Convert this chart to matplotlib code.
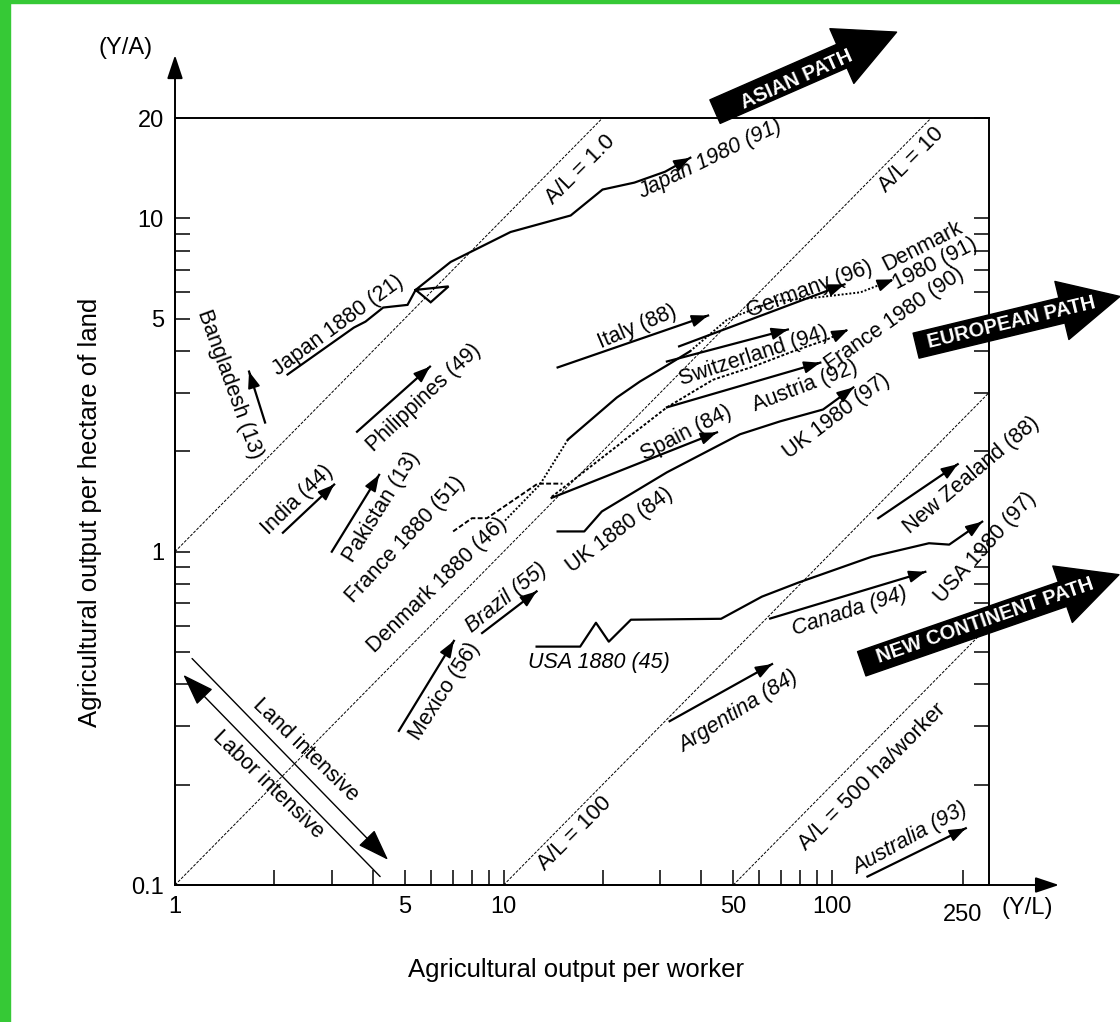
import numpy as np
import matplotlib.pyplot as plt
from matplotlib.patches import Rectangle
from matplotlib.transforms import ScaledTranslation

plt.rcParams['font.family'] = ['Liberation Sans', 'DejaVu Sans']

# axis ticks
x_major = [1, 5, 10, 50, 100, 250]
x_minor = [2, 3, 4, 6, 7, 8, 9, 20, 30, 40, 60, 70, 80, 90]
y_major = [0.1, 1, 5, 10, 20]
y_minor = [0.2, 0.3, 0.4, 0.5, 0.6, 0.7, 0.8, 0.9, 2, 3, 4, 6, 7, 8, 9]

# land per worker (A/L) guide lines
al_x = [[1, 20], [1, 200], [10, 300], [50, 300]]
al_y = [[1, 20], [0.1, 20], [0.1, 3], [0.1, 0.6]]
al_text = ['A/L = 1.0', 'A/L = 10', 'A/L = 100', 'A/L = 500 ha/worker']
al_text_x = [17.1, 174, 16.5, 132]
al_text_y = [14.0, 15.0, 0.143, 0.211]

# long-run paths (Y/L, Y/A)
japan_x = [2.2, 3.5, 3.8, 4.3, 5.1, 5.4, 6.8, 6.0, 5.4, 6.9, 10.5, 16, 20, 25, 31, 37]
japan_y = [3.4, 4.7, 4.9, 5.4, 5.5, 6.1, 6.25, 5.6, 6.1, 7.4, 9.1, 10.2, 12.2, 12.8, 13.8, 15.2]
uk_x = [14.6, 17.6, 19.9, 31.4, 52.4, 69.4, 93.8, 116]
uk_y = [1.15, 1.15, 1.32, 1.73, 2.25, 2.46, 2.67, 3.11]
usa_x = [12.6, 17.1, 19.1, 20.9, 24.4, 45.9, 61.1, 78.7, 132, 197, 227, 286]
usa_y = [0.519, 0.519, 0.612, 0.537, 0.625, 0.629, 0.733, 0.807, 0.966, 1.06, 1.05, 1.23]
denmark_early_x = [10.1, 12.9, 15.7]
denmark_early_y = [1.24, 1.59, 2.17]
denmark_mid_x = [15.7, 22.1, 26.0, 31.4, 36.9]
denmark_mid_y = [2.17, 2.90, 3.24, 3.62, 3.99]
denmark_late_x = [36.9, 47.9, 66.0, 89.9, 122, 154]
denmark_late_y = [3.99, 4.97, 5.63, 5.79, 6.0, 6.56]
france_early_x = [7.02, 8.01, 8.90, 12.7, 15.1]
france_early_y = [1.15, 1.26, 1.26, 1.60, 1.60]
france_late_x = [14.0, 31.4, 43.4, 57.4, 76.0, 96.4, 112]
france_late_y = [1.46, 2.71, 3.28, 3.59, 3.99, 4.33, 4.64]

# short-period arrows: start and end
arrow_names = ['Bangladesh', 'India', 'Pakistan', 'Philippines', 'Mexico', 'Brazil',
               'Italy', 'Germany', 'Switzerland', 'Austria', 'Spain', 'Canada',
               'Argentina', 'Australia', 'New Zealand']
arrow_x0 = [1.88, 2.13, 3.0, 3.58, 4.8, 8.6, 14.6, 34.2, 31.4, 31.4, 14.0, 64.7, 32, 128, 138]
arrow_y0 = [2.44, 1.14, 1.0, 2.29, 0.29, 0.57, 3.57, 4.13, 3.72, 2.71, 1.45, 0.63, 0.31, 0.106, 1.26]
arrow_x1 = [1.68, 3.05, 4.18, 5.97, 7.06, 12.6, 41.9, 109, 73.3, 92, 44.6, 192, 65.6, 255, 241]
arrow_y1 = [3.47, 1.59, 1.70, 3.59, 0.54, 0.76, 5.11, 6.34, 4.64, 3.69, 2.28, 0.87, 0.46, 0.148, 1.83]

# labels
label_text = ['Japan 1880 (21)', 'Japan 1980 (91)', 'Bangladesh (13)', 'India (44)',
              'Pakistan (13)', 'Philippines (49)', 'France 1880 (51)', 'Denmark 1880 (46)',
              'Brazil (55)', 'UK 1880 (84)', 'USA 1880 (45)', 'Mexico (56)', 'Italy (88)',
              'Germany (96)', 'Switzerland (94)', 'Austria (92)', 'Spain (84)',
              'UK 1980 (97)', 'Denmark', '1980 (91)', 'France 1980 (90)',
              'New Zealand (88)', 'USA 1980 (97)', 'Canada (94)', 'Argentina (84)',
              'Australia (93)']
label_x = [3.13, 42.5, 1.47, 2.35, 4.24, 5.72, 5.01, 6.27, 10.2, 22.6, 19.5, 6.63, 25.5,
           85.6, 57.8, 82.6, 35.9, 103, 188, 206, 155, 266, 292, 113, 51.7, 173]
label_y = [4.77, 15.0, 3.17, 1.43, 1.36, 2.90, 1.09, 0.796, 0.728, 1.16, 0.465, 0.380, 4.71,
           6.12, 3.85, 3.13, 2.26, 2.55, 8.25, 7.30, 4.97, 1.70, 1.03, 0.661, 0.331, 0.138]
label_rot = [36, 26, -70, 44, 58, 43, 47, 44, 39, 37, 0, 57, 23, 20, 18, 21, 27, 37, 27, 27,
             35, 40, 48, 18, 32, 29]
label_italic = ['Japan 1980 (91)', 'Brazil (55)', 'USA 1880 (45)', 'Canada (94)',
                'Argentina (84)', 'Australia (93)']

# land / labor intensive double arrow
land_x = [1.127, 4.45]
land_y = [0.478, 0.119]
labor_x = [4.21, 1.06]
labor_y = [0.106, 0.427]

# development path arrows
path_names = ['ASIAN PATH', 'EUROPEAN PATH', 'NEW CONTINENT PATH']
path_tail_x = [44.0, 180, 123]
path_tail_y = [20.9, 4.15, 0.461]
path_tip_x = [157, 751, 746]
path_tip_y = [36.2, 5.83, 0.853]
path_text_x = [78.1, 352, 292]
path_text_y = [26.1, 4.87, 0.621]
path_rot = [24, 13.5, 19]

fig = plt.figure(figsize=(11.2, 10.22), dpi=100)
ax = fig.add_axes([175 / 1120, 137 / 1022, 814 / 1120, 767 / 1022])
ax.set_xscale('log')
ax.set_yscale('log')
ax.set_xlim(1, 300)
ax.set_ylim(0.1, 20)

fig.patches.append(Rectangle((0, 0), 10 / 1120, 1, transform=fig.transFigure,
                             color='#36c936', zorder=0))
fig.patches.append(Rectangle((0, 1 - 3 / 1022), 1, 3 / 1022, transform=fig.transFigure,
                             color='#36c936', zorder=0))

for s in ax.spines.values():
    s.set_linewidth(1.4)

ax.set_xticks(x_major)
ax.set_xticklabels([str(v) for v in x_major])
ax.set_xticks(x_minor, minor=True)
ax.set_yticks(y_major)
ax.set_yticklabels(['0.1', '1', '5', '10', '20'])
ax.set_yticks(y_minor, minor=True)
ax.xaxis.set_minor_formatter(plt.NullFormatter())
ax.yaxis.set_minor_formatter(plt.NullFormatter())
ax.tick_params(which='both', direction='in', length=11, width=1.1, labelsize=17,
               top=False, right=True, pad=8)
# the 250 label sits a little lower in the original
lab250 = ax.get_xticklabels()[-1]
lab250.set_transform(lab250.get_transform() + ScaledTranslation(0, -8 / 100, fig.dpi_scale_trans))

# axis arrows
axis_arrow = dict(arrowstyle='-|>,head_length=0.9,head_width=0.3', mutation_scale=16,
                  lw=1.4, color='black', shrinkA=0, shrinkB=0)
ax.annotate('', xy=(0, 1.082), xytext=(0, 0), xycoords='axes fraction',
            arrowprops=axis_arrow, annotation_clip=False)
ax.annotate('', xy=(1.086, 0), xytext=(0, 0), xycoords='axes fraction',
            arrowprops=axis_arrow, annotation_clip=False)
ax.text(-0.061, 1.091, '(Y/A)', transform=ax.transAxes, fontsize=17, ha='center', va='center')
ax.text(1.047, -0.03, '(Y/L)', transform=ax.transAxes, fontsize=17, ha='center', va='center')
ax.text(0.493, -0.111, 'Agricultural output per worker', transform=ax.transAxes,
        fontsize=18.5, ha='center', va='center')
ax.text(-0.104, 0.486, 'Agricultural output per hectare of land', transform=ax.transAxes,
        fontsize=18.5, ha='center', va='center', rotation=90)

# A/L lines
for xs, ys, t, tx, ty in zip(al_x, al_y, al_text, al_text_x, al_text_y):
    ax.plot(xs, ys, color='black', lw=0.7, ls=(0, (3, 1.5)))
    ax.text(tx, ty, t, fontsize=16, rotation=45, ha='center', va='center',
            rotation_mode='anchor')

head = dict(arrowstyle='-|>,head_length=0.75,head_width=0.28', mutation_scale=13,
            lw=1.4, color='black', shrinkA=0, shrinkB=0)


def arrow_end(xs, ys):
    lx0, ly0 = np.log10(xs[-2]), np.log10(ys[-2])
    lx1, ly1 = np.log10(xs[-1]), np.log10(ys[-1])
    d = np.hypot(lx1 - lx0, ly1 - ly0)
    t = min(1.0, 0.01 / d)
    start = (10 ** (lx1 - t * (lx1 - lx0)), 10 ** (ly1 - t * (ly1 - ly0)))
    ax.annotate('', xy=(xs[-1], ys[-1]), xytext=start, arrowprops=head)


lw = 1.6
ax.plot(japan_x, japan_y, color='black', lw=lw, solid_joinstyle='miter')
arrow_end(japan_x, japan_y)
ax.plot(uk_x, uk_y, color='black', lw=lw)
arrow_end(uk_x, uk_y)
ax.plot(usa_x, usa_y, color='black', lw=lw)
arrow_end(usa_x, usa_y)
ax.plot(denmark_early_x, denmark_early_y, color='black', lw=1.4, ls=(0, (1, 1)))
ax.plot(denmark_mid_x, denmark_mid_y, color='black', lw=lw)
ax.plot(denmark_late_x, denmark_late_y, color='black', lw=1.4, ls=(0, (1, 1)))
arrow_end(denmark_late_x, denmark_late_y)
ax.plot(france_early_x, france_early_y, color='black', lw=1.4, ls=(0, (2.5, 1.2)))
ax.plot(france_late_x, france_late_y, color='black', lw=1.4, ls=(0, (1.5, 1)))
arrow_end(france_late_x, france_late_y)

for x0, y0, x1, y1 in zip(arrow_x0, arrow_y0, arrow_x1, arrow_y1):
    ax.plot([x0, x1], [y0, y1], color='black', lw=lw)
    arrow_end([x0, x1], [y0, y1])

for t, x, y, r in zip(label_text, label_x, label_y, label_rot):
    ax.text(x, y, t, fontsize=15.5, rotation=r, ha='center', va='center',
            rotation_mode='anchor', style='italic' if t in label_italic else 'normal')

# land / labor intensive
big_head = dict(arrowstyle='-|>,head_length=1.0,head_width=0.35', mutation_scale=20,
                lw=1.0, color='black', shrinkA=0, shrinkB=0)
ax.annotate('', xy=(land_x[1], land_y[1]), xytext=(land_x[0], land_y[0]), arrowprops=big_head)
ax.annotate('', xy=(labor_x[1], labor_y[1]), xytext=(labor_x[0], labor_y[0]), arrowprops=big_head)
ax.text(2.49, 0.254, 'Land intensive', fontsize=15.5, rotation=-44, ha='center', va='center',
        rotation_mode='anchor')
ax.text(1.92, 0.200, 'Labor intensive', fontsize=15.5, rotation=-44, ha='center', va='center',
        rotation_mode='anchor')

# development paths
for name, tx0, ty0, tx1, ty1, px, py, r in zip(path_names, path_tail_x, path_tail_y,
                                               path_tip_x, path_tip_y, path_text_x,
                                               path_text_y, path_rot):
    ax.annotate('', xy=(tx1, ty1), xytext=(tx0, ty0), annotation_clip=False,
                arrowprops=dict(arrowstyle='simple,head_length=4.3,head_width=4.3,tail_width=1.85',
                                mutation_scale=10, fc='black', ec='black', shrinkA=0, shrinkB=0))
    ax.text(px, py, name, color='white', fontsize=14.5, fontweight='bold', rotation=r,
            ha='center', va='center', rotation_mode='anchor')

fig.savefig('out.png', dpi=100)
